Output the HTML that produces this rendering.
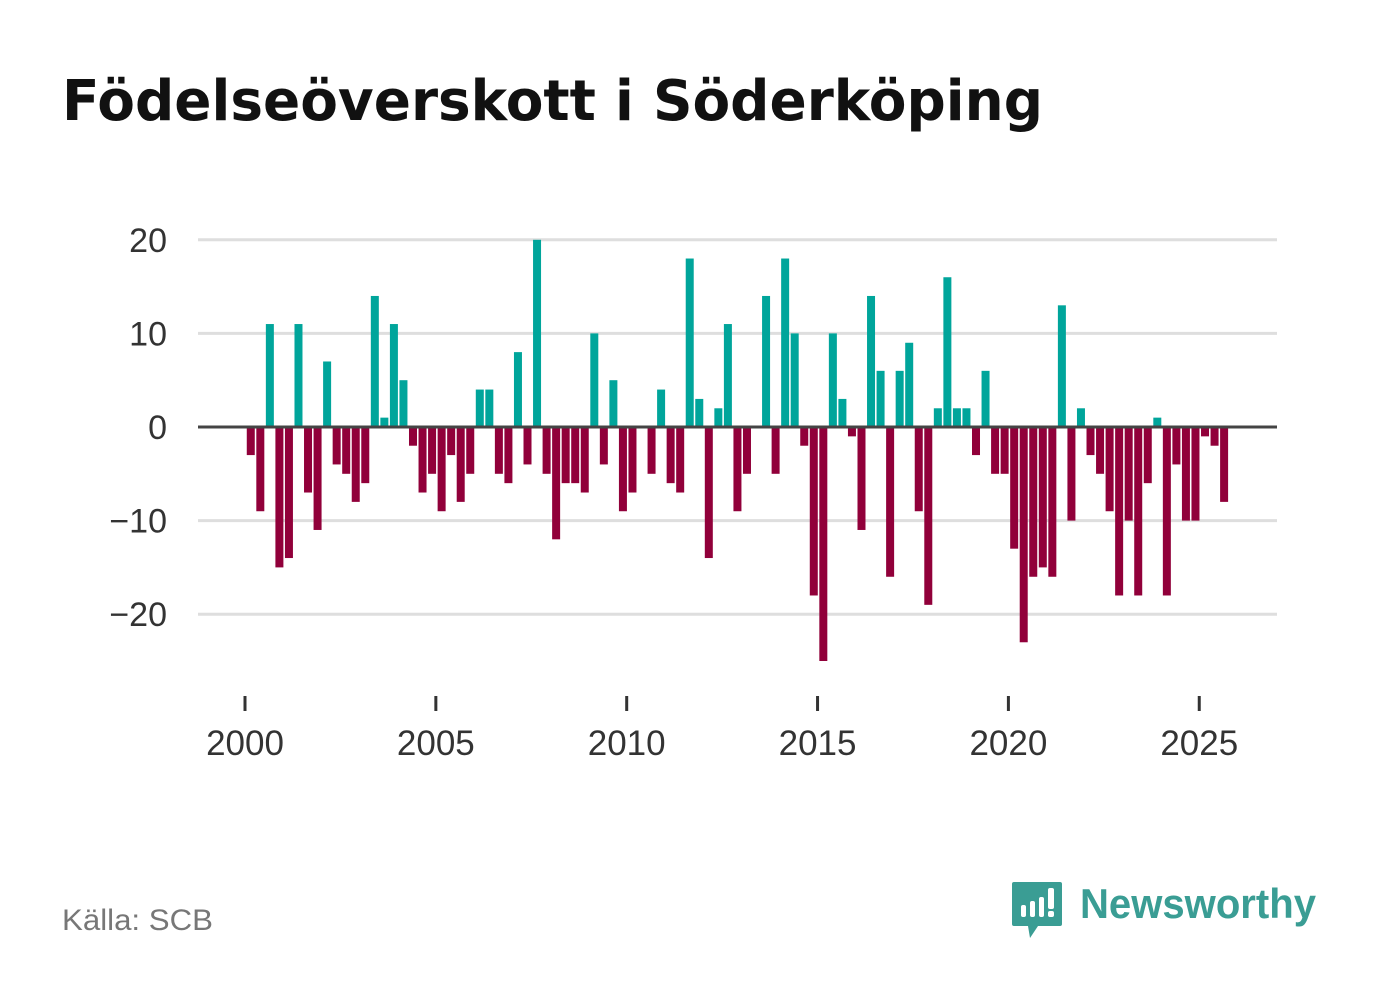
<!DOCTYPE html>
<html><head><meta charset="utf-8"><style>
html,body{margin:0;padding:0;background:#fff;width:1382px;height:999px;overflow:hidden}
svg text{font-family:"Liberation Sans","DejaVu Sans",sans-serif}
</style></head><body>
<svg id="chart" width="1382" height="999" viewBox="0 0 1382 999" xmlns="http://www.w3.org/2000/svg">
<text x="62" y="120" font-size="56" font-weight="bold" fill="#111" textLength="981" lengthAdjust="spacingAndGlyphs" style="font-family:'DejaVu Sans','Liberation Sans',sans-serif">Födelseöverskott i Söderköping</text>
<g id="grid"></g>
<g id="bars"></g>
<line x1="198" x2="1277" y1="427" y2="427" stroke="#444" stroke-width="3"/>
<g id="yaxis"></g>
<g id="xaxis"></g>
<text x="62" y="930" font-size="30" fill="#777" textLength="151" lengthAdjust="spacingAndGlyphs">Källa: SCB</text>
<g>
<path d="M1014 882 h46 a2 2 0 0 1 2 2 v40 a2 2 0 0 1 -2 2 h-22 l-8 12 l-2 -12 h-14 a2 2 0 0 1 -2 -2 v-40 a2 2 0 0 1 2 -2z" fill="#3a9d94"/>
<rect x="1021" y="905" width="5" height="12" rx="2" fill="#fff"/>
<rect x="1030" y="901" width="5" height="16" rx="2" fill="#fff"/>
<rect x="1039" y="897" width="5" height="20" rx="2" fill="#fff"/>
<rect x="1048" y="888" width="6" height="21" rx="2" fill="#fff"/>
<rect x="1048" y="911" width="6" height="6" rx="2" fill="#fff"/>
<text x="1080" y="918" font-size="42" font-weight="bold" fill="#3a9d94" textLength="236" lengthAdjust="spacingAndGlyphs">Newsworthy</text>
</g>
</svg>
<script>
const years = [2000,2001,2002,2003,2004,2005,2006,2007,2008,2009,2010,2011,2012,2013,2014,2015,2016,2017,2018,2019,2020,2021,2022,2023,2024,2025];
const values = [-3,-9,11,-15, -14,11,-7,-11, 7,-4,-5,-8, -6,14,1,11, 5,-2,-7,-5, -9,-3,-8,-5, 4,4,-5,-6, 8,-4,20,-5, -12,-6,-6,-7, 10,-4,5,-9, -7,0,-5,4, -6,-7,18,3, -14,2,11,-9, -5,0,14,-5, 18,10,-2,-18, -25,10,3,-1, -11,14,6,-16, 6,9,-9,-19, 2,16,2,2, -3,6,-5,-5, -13,-23,-16,-15, -16,13,-10,2, -3,-5,-9,-18, -10,-18,-6,1, -18,-4,-10,-10, -1,-2,-8];
const yTicks = [20,10,0,-10,-20];
const yTickLabels = ["20","10","0","−10","−20"];
const xTicks = [2000,2005,2010,2015,2020,2025];
const xTickLabels = ["2000","2005","2010","2015","2020","2025"];

const NS = "http://www.w3.org/2000/svg";
const x = t => 245 + (t - 2000) * 38.17;
const y = v => 427 - v * 9.36;
function mk(tag, attrs, parent){const e=document.createElementNS(NS,tag);for(const k in attrs)e.setAttribute(k,attrs[k]);parent.appendChild(e);return e;}
const grid=document.getElementById('grid'), bars=document.getElementById('bars'), ya=document.getElementById('yaxis'), xa=document.getElementById('xaxis');
yTicks.forEach((v,i)=>{
  if(v!==0){const l=mk('line',{x1:198,x2:1277,y1:y(v),y2:y(v),stroke:'#dedede','stroke-width':3},grid);
  
  }
  const t=mk('text',{x:167,y:y(v)+12,'font-size':34,fill:'#333','text-anchor':'end'},ya);
  t.textContent=yTickLabels[i];
  
  
});
xTicks.forEach((yr,i)=>{
  const l=mk('line',{x1:x(yr),x2:x(yr),y1:696,y2:711,stroke:'#333','stroke-width':3},xa);
  
  
  const t=mk('text',{x:x(yr),y:755,'font-size':35,fill:'#333','text-anchor':'middle'},xa);
  t.textContent=xTickLabels[i];
  
  
});
values.forEach((v,i)=>{
  if(v===0)return;
  const t=years[0]+(i+0.5)/4;
  const cx=x(t)+1;
  const r=mk('rect',{x:cx-4,width:8,y:Math.min(y(v),y(0)),height:Math.abs(y(v)-y(0)),fill:v>0?'#00a59b':'#91003a'},bars);
  
  
});
</script>
</body></html>
